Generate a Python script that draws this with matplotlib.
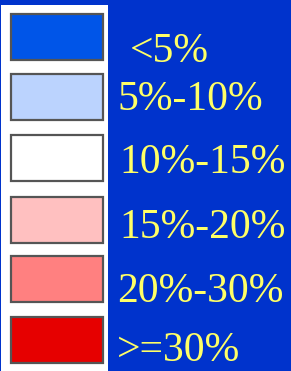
import matplotlib
matplotlib.use("Agg")
import matplotlib.pyplot as plt
from matplotlib.patches import Rectangle

# Data
labels = ["<5%", "5%-10%", "10%-15%", "15%-20%", "20%-30%", ">=30%"]
colors = ["#0055e8", "#bbd3fe", "#ffffff", "#ffc0c0", "#ff8080", "#e60000"]

# Layout (pixels)
W, H = 291, 371
rect_tops = [14, 74, 135, 197, 256, 317]
rect_h = 46
rect_x0, rect_x1 = 11, 103
text_x = [130, 117, 119, 119, 117, 117]
text_base = [62, 110, 173, 238, 302, 361]

fig = plt.figure(figsize=(W / 100, H / 100), dpi=100)
fig.patch.set_facecolor("#0033cc")
ax = fig.add_axes([0, 0, 1, 1])
ax.set_xlim(0, W)
ax.set_ylim(H, 0)
ax.axis("off")

# white panel
ax.add_patch(Rectangle((1, 5), 107, H - 5, facecolor="white", edgecolor="none"))

for top, c in zip(rect_tops, colors):
    ax.add_patch(Rectangle((rect_x0, top), rect_x1 - rect_x0, rect_h,
                           facecolor=c, edgecolor="#555555", linewidth=1.6))

for lab, x, b in zip(labels, text_x, text_base):
    ax.text(x, b, lab, color="#ffff66", fontsize=30, family="Liberation Serif",
            ha="left", va="baseline")

fig.savefig("out.png", dpi=100, facecolor=fig.get_facecolor())
